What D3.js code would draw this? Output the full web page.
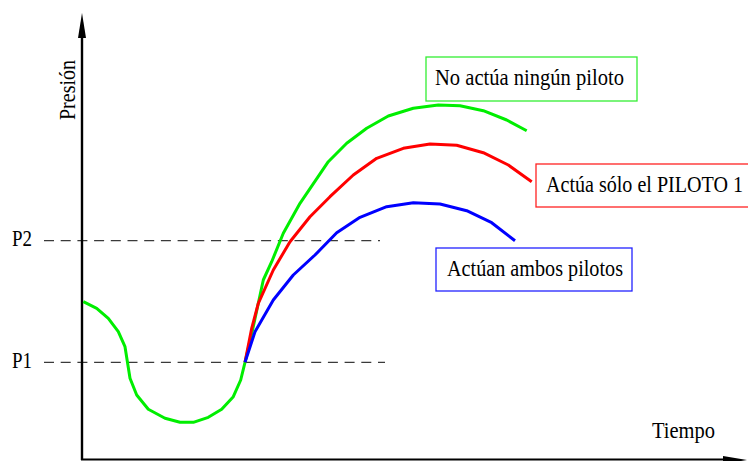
<!DOCTYPE html>
<html>
<head>
<meta charset="utf-8">
<script src="https://cdn.jsdelivr.net/npm/d3@7"></script>
<style>
  html, body { margin: 0; padding: 0; background: #fff; }
  svg { display: block; }
  text { font-family: "Liberation Serif", "Times New Roman", serif; fill: #000; }
</style>
</head>
<body>
<svg id="chart" width="748" height="461"></svg>
<script>
// Pressure levels marked on the vertical axis
const levelNames = ["P1", "P2"];
const levelValues = [9.77, 21.93];

// Common trajectory (no pilot acting): time, pressure
const greenT = [0.13, 1.47, 2.63, 3.63, 4.3, 4.8, 5.47, 6.63, 8.3, 9.8, 11.13, 12.63, 13.97, 15.13, 15.87, 16.3,
                17.1, 18.13, 18.97, 20.13, 21.8, 24.63, 26.47, 28.47, 30.63, 33.13, 35.63, 37.8, 40.13, 42.47, 44.47];
const greenP = [15.83, 15.17, 14.17, 12.83, 11.33, 8.17, 6.5, 5.07, 4.17, 3.77, 3.77, 4.27, 5.07, 6.33, 8.0, 9.77,
                13.2, 18.0, 19.83, 22.67, 25.67, 29.83, 31.67, 33.17, 34.4, 35.17, 35.5, 35.43, 34.93, 34.0, 32.93];

// Only pilot 1 acting
const redT = [16.3, 16.97, 17.63, 19.13, 20.8, 22.8, 24.8, 27.13, 29.47, 32.13, 34.8, 37.47, 40.13, 42.63, 44.97];
const redP = [9.77, 13.17, 15.67, 19.0, 21.83, 24.33, 26.33, 28.5, 30.17, 31.17, 31.6, 31.47, 30.73, 29.5, 27.83];

// Both pilots acting
const blueT = [16.3, 17.3, 19.13, 21.13, 23.3, 25.47, 27.8, 30.47, 33.13, 35.8, 38.47, 40.97, 43.3];
const blueP = [9.77, 12.83, 16.0, 18.5, 20.5, 22.73, 24.27, 25.33, 25.73, 25.6, 24.93, 23.73, 21.93];

const seriesNames = ["No actúa ningún piloto", "Actúa sólo el PILOTO 1", "Actúan ambos pilotos"];
const axisTitles = ["Presión", "Tiempo"];

const svg = d3.select("#chart");
const FS = 23;

const x = d3.scaleLinear().domain([0, 66]).range([82, 742]);
const y = d3.scaleLinear().domain([0, 44.7]).range([460, 13]);

const toPts = (ts, ps) => ts.map((t, i) => [t, ps[i]]);
const line = d3.line().x(d => x(d[0])).y(d => y(d[1])).curve(d3.curveLinear);

// condensed serif label helper
function label(sel, str, len) {
  return sel.attr("font-size", FS)
    .attr("textLength", len).attr("lengthAdjust", "spacingAndGlyphs")
    .text(str);
}

// dashed reference levels
const levels = levelNames.map((n, i) => ({ name: n, v: levelValues[i] }));
const dashEnds = { P1: 385, P2: 380 };
svg.selectAll("line.level").data(levels).enter().append("line")
  .attr("class", "level")
  .attr("x1", 44).attr("x2", d => dashEnds[d.name])
  .attr("y1", d => y(d.v)).attr("y2", d => y(d.v))
  .attr("stroke", "#3a3a3a").attr("stroke-width", 1.3)
  .attr("stroke-dasharray", "10,6.7");
levels.forEach(d => {
  label(svg.append("text").attr("x", 12).attr("y", y(d.v) + 5.5), d.name, 20);
});

// axes with arrow heads
svg.append("line").attr("x1", 82).attr("x2", 82).attr("y1", 460).attr("y2", 30)
  .attr("stroke", "#000").attr("stroke-width", 2.4);
svg.append("path").attr("d", "M82,13 L86,38 L78,38 Z").attr("fill", "#000");
svg.append("line").attr("x1", 81).attr("x2", 730).attr("y1", 459.5).attr("y2", 459.5)
  .attr("stroke", "#000").attr("stroke-width", 2);
svg.append("path").attr("d", "M747,460 L723,456 L723,464 Z").attr("fill", "#000");

label(svg.append("text")
  .attr("transform", "translate(75,120) rotate(-90)"), axisTitles[0], 60);
label(svg.append("text").attr("x", 652).attr("y", 438), axisTitles[1], 63);

// curves
const curves = [
  { pts: toPts(greenT, greenP), color: "#00ee00" },
  { pts: toPts(redT, redP), color: "#ff0000" },
  { pts: toPts(blueT, blueP), color: "#0000ff" }
];
svg.selectAll("path.curve").data(curves).enter().append("path")
  .attr("class", "curve")
  .attr("d", d => line(d.pts))
  .attr("fill", "none")
  .attr("stroke", d => d.color)
  .attr("stroke-width", 3)
  .attr("stroke-linejoin", "round");

// series labels in boxes
const boxes = [
  { x: 426, y: 57, w: 211, h: 44, tx: 435, ty: 85, len: 189, color: "#33ee33" },
  { x: 536, y: 164, w: 220, h: 43, tx: 546, ty: 192, len: 197, color: "#ff2222" },
  { x: 436, y: 248, w: 196, h: 43, tx: 447, ty: 276, len: 176, color: "#2222ff" }
];
boxes.forEach((b, i) => {
  svg.append("rect").attr("x", b.x).attr("y", b.y).attr("width", b.w).attr("height", b.h)
    .attr("fill", "#fff").attr("stroke", b.color).attr("stroke-width", 1.3);
  label(svg.append("text").attr("x", b.tx).attr("y", b.ty), seriesNames[i], b.len);
});
</script>
</body>
</html>
